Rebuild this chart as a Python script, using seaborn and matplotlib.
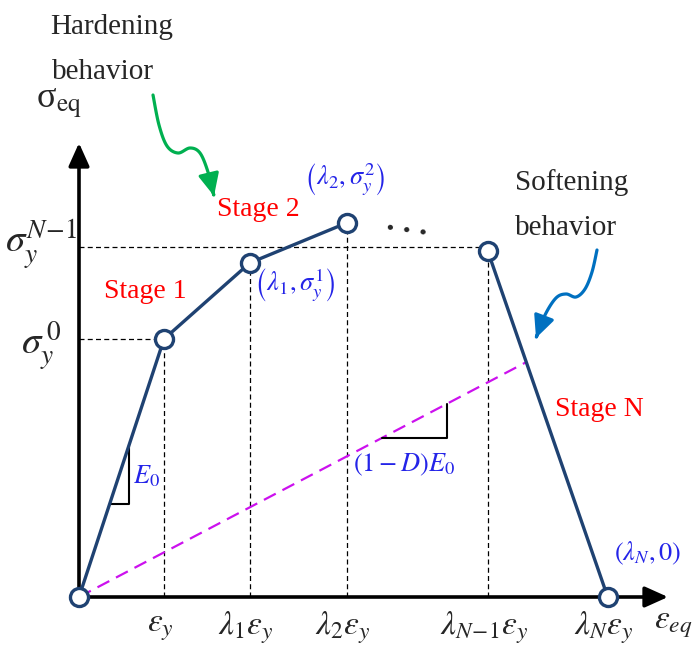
import numpy as np
import matplotlib
matplotlib.use("Agg")
import matplotlib.pyplot as plt
import seaborn as sns
from matplotlib.path import Path
from matplotlib.patches import FancyArrowPatch

# ---------------- data (strain in units of eps_y, stress in units of sigma_y^0)
stage_strain = [0.0, 1.0, 2.01, 3.15, 4.81, 6.22]
stage_stress = [0.0, 1.0, 1.295, 1.45, 1.34, 0.0]
E0 = 1.0
damage_D = 0.827
strain_ticks = [1.0, 2.01, 3.15, 4.81, 6.22]
strain_tick_labels = [r'$\varepsilon_y$', r'$\lambda_1\varepsilon_y$', r'$\lambda_2\varepsilon_y$',
                      r'$\lambda_{N\!-\!1}\varepsilon_y$', r'$\lambda_N\varepsilon_y$']
stress_ticks = [1.0, 1.357]
stress_tick_labels = [r'$\sigma_y^{\,0}$', r'$\sigma_y^{N\!-\!1}$']
stage_names = ['Stage 1', 'Stage 2', 'Stage N']
point_labels = [r'$\left(\lambda_1,\sigma_y^1\right)$', r'$\left(\lambda_2,\sigma_y^2\right)$',
                r'$\left(\lambda_N,0\right)$']

# ---------------- style
sns.set_theme(style="white")
plt.rcParams['font.family'] = ['Liberation Serif', 'DejaVu Serif']
plt.rcParams['mathtext.fontset'] = 'stix'

NAVY = '#1F4272'
BLUE = '#2424E8'
RED = '#FF0000'
MAG = '#CC11EE'
GREEN = '#00B050'
SKY = '#0070C0'

W, H = 695, 647
X0, Y0, UX, UY = 79, 597, 85.0, 258.0   # layout of the drawing in pixels

fig = plt.figure(figsize=(W / 100, H / 100), dpi=100)
ax = fig.add_axes([0, 0, 1, 1])
ax.set_xlim(-X0 / UX, (W - X0) / UX)
ax.set_ylim(-(H - Y0) / UY, Y0 / UY)
ax.axis('off')


def to_data(px, py):
    return ((px - X0) / UX, (Y0 - py) / UY)


def ftext(px, py, s, **kw):
    fig.text(px / W, 1 - py / H, s, **kw)


# ---------------- axes arrows
x_tip = to_data(668, Y0)[0]
y_tip = to_data(X0, 143)[1]
arrow_kw = dict(arrowstyle='-|>,head_length=1.0,head_width=0.45', mutation_scale=14,
                lw=2.6, color='black', shrinkA=0, shrinkB=0)
ax.annotate('', xy=(x_tip, 0), xytext=(-1.6 / UX, 0), arrowprops=arrow_kw, zorder=3)
ax.annotate('', xy=(0, y_tip), xytext=(0, -1.6 / UY), arrowprops=arrow_kw, zorder=3)

# ---------------- guide lines
guide = dict(color='black', lw=0.9, dashes=(4, 2.6), zorder=1)
for xs, ys in zip(stage_strain[1:5], stage_stress[1:5]):
    ax.plot([xs, xs], [0, ys], **guide)
ax.plot([0, stage_strain[1]], [stress_ticks[0]] * 2, **guide)
ax.plot([0, stage_strain[4]], [stress_ticks[1]] * 2, **guide)

# ---------------- damaged unloading line
slope = (1 - damage_D) * E0
xe, ye = stage_strain[4], stage_stress[4]
xn = stage_strain[5]
soft = ye / (xn - xe)
x_int = soft * xn / (slope + soft)
ax.plot([0, x_int], [0, slope * x_int], color=MAG, lw=1.6, dashes=(6, 3.4), zorder=2)

# slope triangles
ty = 0.36
tx2 = 0.588
ax.plot([ty / E0, tx2, tx2], [ty, ty, tx2 * E0], color='black', lw=1.5, zorder=2)
dx1, dx2 = 3.565, 4.33
ax.plot([dx1, dx2, dx2], [slope * dx1, slope * dx1, slope * dx2], color='black', lw=1.5, zorder=2)

# ---------------- main curve (hardening stages, then softening stage)
line_kw = dict(sort=False, estimator=None, ax=ax, color=NAVY, lw=2.4, marker='o',
               markersize=13, markerfacecolor='white', markeredgecolor=NAVY,
               markeredgewidth=2.4, zorder=5)
sns.lineplot(x=stage_strain[:4], y=stage_stress[:4], **line_kw)
sns.lineplot(x=stage_strain[4:], y=stage_stress[4:], **line_kw)

# ---------------- wavy annotation arrows


def smooth(pts, n=14):
    pts = np.asarray(pts, float)
    P = np.vstack([pts[0], pts, pts[-1]])
    out = []
    t = np.linspace(0, 1, n, endpoint=False)[:, None]
    for i in range(1, len(P) - 2):
        p0, p1, p2, p3 = P[i - 1], P[i], P[i + 1], P[i + 2]
        seg = 0.5 * ((2 * p1) + (-p0 + p2) * t + (2 * p0 - 5 * p1 + 4 * p2 - p3) * t ** 2
                     + (-p0 + 3 * p1 - 3 * p2 + p3) * t ** 3)
        out.append(seg)
    out.append(P[-2][None])
    return np.vstack(out)


green_path = [(153, 95), (159, 125), (167, 146), (178, 153), (190, 148), (200, 153),
              (208, 172), (214, 196)]
sky_path = [(597, 250), (592, 272), (585, 289), (576, 297), (566, 294), (556, 298),
            (545, 315), (536, 338)]
for pts, col in [(green_path, GREEN), (sky_path, SKY)]:
    verts = np.array([to_data(px, py) for px, py in smooth(pts)])
    arr = FancyArrowPatch(path=Path(verts), arrowstyle='-|>,head_length=0.9,head_width=0.42',
                          mutation_scale=15, lw=2.3, color=col, zorder=4)
    ax.add_patch(arr)

# ---------------- texts
ftext(59, 104, r'σ$_{\rm eq}$', fontsize=26, ha='center', va='center')
for yv, lab in zip(stress_ticks, stress_tick_labels):
    py = Y0 - yv * UY
    ftext(41, py - 3 + (10 if yv == 1.0 else 0), lab, fontsize=28, ha='center', va='center')
for xv, lab in zip(strain_ticks, strain_tick_labels):
    px = X0 + xv * UX
    ftext(px - 4, 628, lab, fontsize=24, ha='center', va='center')
ftext(673, 625, r'$\varepsilon_{eq}$', fontsize=24, ha='center', va='center')

for (px, py), s in zip([(145, 292), (258, 210), (599, 410)], stage_names):
    ftext(px, py, s, fontsize=20, color=RED, ha='center', va='center')

ftext(50, 27, 'Hardening', fontsize=21, ha='left', va='center')
ftext(52, 72, 'behavior', fontsize=21, ha='left', va='center')
ftext(515, 183, 'Softening', fontsize=21, ha='left', va='center')
ftext(515, 228, 'behavior', fontsize=21, ha='left', va='center')

for (px, py), s in zip([(295, 285), (345, 180), (648, 553)], point_labels):
    ftext(px, py, s, fontsize=19, color=BLUE, ha='center', va='center')
ftext(404, 465, r'$\left(1-D\right)E_0$', fontsize=19, color=BLUE, ha='center', va='center')
ftext(147, 476, r'$E_0$', fontsize=19, color=BLUE, ha='center', va='center')

ftext(406, 231, '• • •', fontsize=13, ha='center', va='center', rotation=-8,
      family=['DejaVu Sans'])

fig.savefig('out.png', dpi=100)
